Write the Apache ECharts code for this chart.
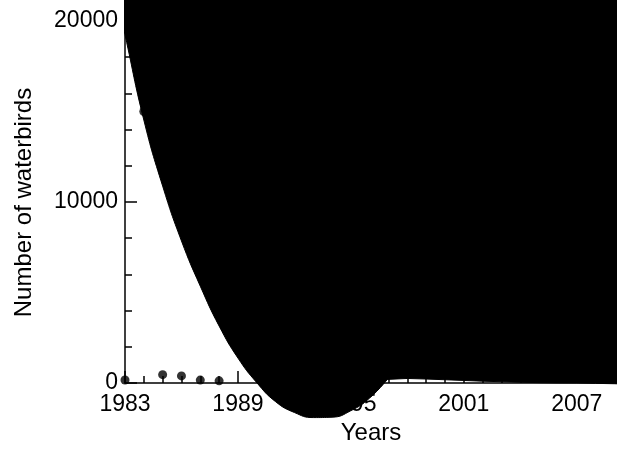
<!DOCTYPE html>
<html>
<head>
<meta charset="utf-8">
<script src="https://cdn.jsdelivr.net/npm/echarts@6/dist/echarts.min.js"></script>
<style>
html,body{margin:0;padding:0;background:#ffffff;}
#chart{width:617px;height:452px;}
</style>
</head>
<body>
<div id="chart"></div>
<script>
// Observed counts (dots)
const obsYears = [1983, 1984, 1985, 1986, 1987, 1988];
const obsBirds = [165, 15000, 460, 390, 160, 120];

// Lower edge of the black band (smoothed part)
const bandYears = [1982.5, 1983, 1984, 1985, 1986, 1987, 1988, 1989, 1990, 1991, 1992, 1993, 1994, 1995, 1996, 1997];
const bandLower = [21580, 19240, 14530, 10880, 7850, 5350, 3150, 1380, 20, -1030, -1630, -1910, -1890, -1530, -830, 280];

// Lower edge of the black band (flat tail)
const tailYears = [1996.93, 1997, 1998, 1999, 2000, 2001, 2002, 2003, 2004, 2005, 2006, 2007, 2008, 2009, 2009.3];
const tailLower = [200, 280, 250, 220, 180, 140, 100, 70, 40, 20, 5, 0, -20, -40, -50];

// Axis ranges / tick steps
const xMin = 1983, xMax = 2009.14, xStep = 6, xMinorSplit = 6;
const yMin = 0, yMax = 21160, yStep = 10000, yMinorSplit = 5;
const xTitle = 'Years';
const yTitle = 'Number of waterbirds';

const font = "'Liberation Sans', Arial, Helvetica, sans-serif";
const zip = (a, b) => a.map((v, i) => [v, b[i]]);

const chart = echarts.init(document.getElementById('chart'), null, {renderer: 'canvas'});
chart.setOption({
  animation: false,
  backgroundColor: '#ffffff',
  grid: {left: 125, right: 0, top: 0, bottom: 69, containLabel: false},
  xAxis: {
    type: 'value', min: xMin, max: xMax, interval: xStep,
    name: xTitle, nameLocation: 'middle', nameGap: 37,
    nameTextStyle: {color: '#000', fontSize: 24, fontFamily: font},
    axisLine: {show: true, onZero: false, lineStyle: {color: '#000', width: 1.5}},
    axisTick: {show: true, inside: true, length: 12, lineStyle: {color: '#000', width: 1.5}},
    minorTick: {show: true, splitNumber: xMinorSplit, length: 7, lineStyle: {color: '#000', width: 1.5}},
    axisLabel: {color: '#000', fontSize: 23, fontFamily: font, margin: 10, showMaxLabel: false,
      formatter: v => String(Math.round(v))},
    splitLine: {show: false}
  },
  yAxis: {
    type: 'value', min: yMin, max: yMax, interval: yStep,
    name: yTitle, nameLocation: 'middle', nameGap: 89,
    nameTextStyle: {color: '#000', fontSize: 24, fontFamily: font, padding: [0, 22, 0, 0]},
    axisLine: {show: true, lineStyle: {color: '#000', width: 1.5}},
    axisTick: {show: true, inside: true, length: 12, lineStyle: {color: '#000', width: 1.5}},
    minorTick: {show: true, splitNumber: yMinorSplit, length: 7, lineStyle: {color: '#000', width: 1.5}},
    axisLabel: {color: '#000', fontSize: 23, fontFamily: font, margin: 7, showMaxLabel: false,
      formatter: v => String(Math.round(v))},
    splitLine: {show: false}
  },
  series: [
    {
      type: 'scatter', z: 2,
      data: zip(obsYears, obsBirds),
      symbol: 'circle', symbolSize: 9,
      itemStyle: {color: '#000'}
    },
    {
      type: 'line', z: 3, clip: false, smooth: 0.5,
      data: zip(bandYears, bandLower),
      showSymbol: false,
      lineStyle: {color: '#000', width: 1},
      areaStyle: {color: '#000', opacity: 1, origin: 'end'}
    },
    {
      type: 'line', z: 3, clip: false, smooth: false,
      data: zip(tailYears, tailLower),
      showSymbol: false,
      lineStyle: {color: '#000', width: 1},
      areaStyle: {color: '#000', opacity: 1, origin: 'end'}
    }
  ]
});
</script>
</body>
</html>
